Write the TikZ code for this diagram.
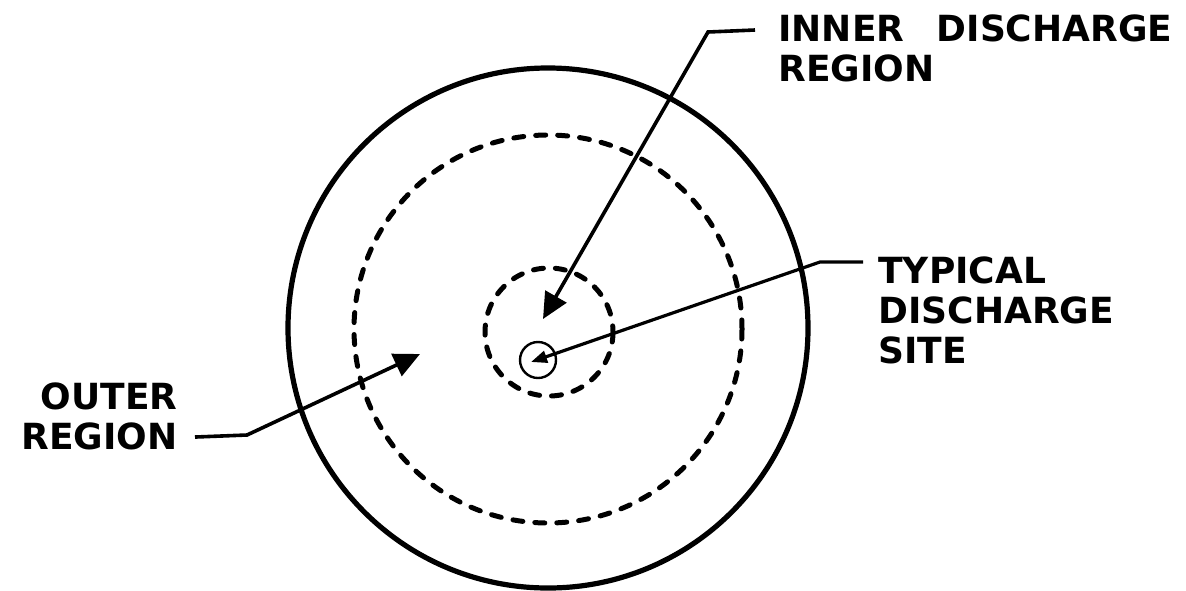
\documentclass[tikz,border=0pt]{standalone}
\usepackage{fontspec}
\setsansfont{DejaVu Sans}
\usetikzlibrary{arrows.meta}

\begin{document}
\begin{tikzpicture}[x=0.5pt, y=-0.5pt,
	every node/.style={font=\sffamily\bfseries\fontsize{18}{20}\selectfont, inner sep=0pt},
	rim/.style={line width=2.6pt},
	zone/.style={line width=2.5pt, line cap=round, dash pattern=on 5pt off 6pt},
	pointer/.style={line width=1.8pt, -{Triangle[length=13pt, width=12pt]}},
	sitepointer/.style={line width=1.6pt, -{Triangle[length=8pt, width=6pt]}}]
	\useasboundingbox (0,0) rectangle (1186,590);
	% disc, discharge zones and site
	\draw[rim] (548,328) circle (260);
	\draw[zone] (548,329) circle (194);
	\draw[zone] (549,332) circle (64);
	\draw[line width=1.2pt] (538,360) circle (18);
	% labels
	\node[anchor=north west, align=left] (inner) at (778,14) {INNER\hspace{0.9em}DISCHARGE\\REGION};
	\node[anchor=north west, align=left] (typical) at (878,256) {TYPICAL\\DISCHARGE\\SITE};
	\node[anchor=north east, align=right] (outer) at (178,382) {OUTER\\REGION};
	% leader bends and arrow targets
	\coordinate (innerBend) at (708,32);
	\coordinate (innerTip) at (543,319);
	\coordinate (typicalBend) at (820,262);
	\coordinate (typicalTip) at (531,362);
	\coordinate (outerBend) at (247,435);
	\coordinate (outerTip) at (420,354);
	\draw[pointer] ([xshift=-11.5pt, yshift=-8pt]inner.north west) -- (innerBend) -- (innerTip);
	\draw[sitepointer] ([xshift=-7.5pt, yshift=-3pt]typical.north west) -- (typicalBend) -- (typicalTip);
	\draw[pointer] ([xshift=8.5pt, yshift=6.5pt]outer.south east) -- (outerBend) -- (outerTip);
\end{tikzpicture}
\end{document}
